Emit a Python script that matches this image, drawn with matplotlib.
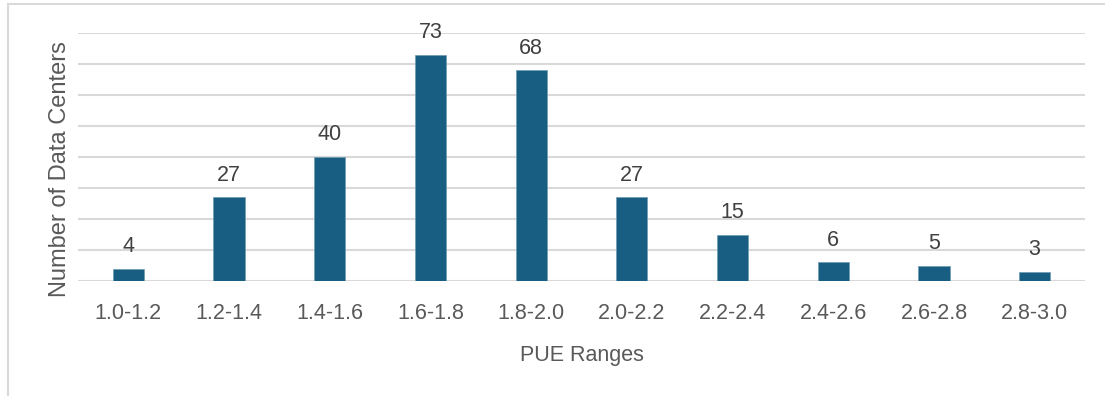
import matplotlib.pyplot as plt
from matplotlib.patches import Rectangle

ranges = ["1.0-1.2", "1.2-1.4", "1.4-1.6", "1.6-1.8", "1.8-2.0",
          "2.0-2.2", "2.2-2.4", "2.4-2.6", "2.6-2.8", "2.8-3.0"]
counts = [4, 27, 40, 73, 68, 27, 15, 6, 5, 3]

plt.rcParams['font.family'] = ['Liberation Sans', 'DejaVu Sans']

fig = plt.figure(figsize=(11.05, 3.96), dpi=100)
ax = fig.add_axes([78 / 1105, 1 - 281 / 396, 1007 / 1105, 248 / 396])

x = range(len(ranges))
bars = ax.bar(x, counts, width=0.31, color='#175e82', edgecolor='#6f9bb3',
              linewidth=0.5, zorder=3)
for b, v in zip(bars, counts):
    ax.annotate(str(v), (b.get_x() + b.get_width() / 2, v),
                xytext=(0, 12), textcoords='offset points',
                ha='center', va='baseline', fontsize=15.5, color='#404040')

ax.set_xlim(-0.5, len(ranges) - 0.5)
ax.set_ylim(0, 80)
ax.set_yticks(range(0, 81, 10))
ax.set_yticklabels([])
ax.tick_params(axis='y', length=0)
ax.tick_params(axis='x', length=0, pad=16, labelsize=15.5, labelcolor='#595959')
ax.set_xticks(list(x))
ax.set_xticklabels(ranges)
ax.grid(axis='y', color='#d9d9d9', linewidth=1.5, zorder=0)
for s in ax.spines.values():
    s.set_visible(False)

ax.set_xlabel("PUE Ranges", fontsize=15.5, color='#595959', labelpad=15)
fig.text(60 / 1105, 1 - 169 / 396, "Number of Data Centers", rotation=90,
         ha='center', va='center', fontsize=17, color='#595959')

# outer chart border (top and left edges)
fig.patches.append(Rectangle((8 / 1105, -0.1), 1.2, 1.1 - 4 / 396,
                             transform=fig.transFigure, fill=False,
                             edgecolor='#d9d9d9', linewidth=1.5))

fig.savefig('out.png', dpi=100)
